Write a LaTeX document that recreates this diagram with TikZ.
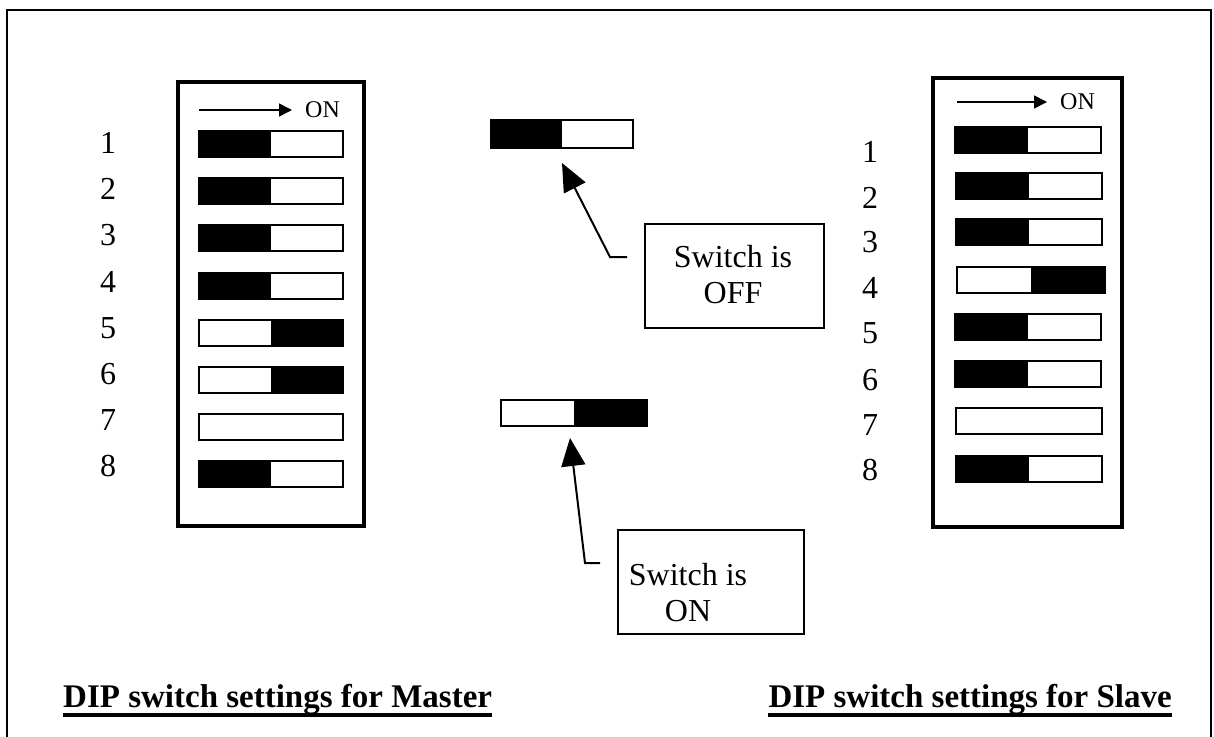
\documentclass[tikz,border=0pt]{standalone}
\usepackage{fontspec}
\setmainfont{Liberation Serif}
\usetikzlibrary{arrows.meta}
\begin{document}
\begin{tikzpicture}[x=1pt,y=-1pt,
  frame/.style={line width=2.5pt},
  dipbox/.style={draw, line width=4.5pt, inner sep=0pt},
  swbox/.style={draw, line width=2.5pt, inner sep=0pt, minimum height=26pt},
  swoff/.style={swbox, path picture={\fill (path picture bounding box.south west) rectangle (path picture bounding box.north);}},
  swon/.style={swbox, path picture={\fill (path picture bounding box.south) rectangle (path picture bounding box.north east);}},
  num/.style={inner sep=0pt, anchor=base, font=\fontsize{32}{37}\selectfont},
  onlbl/.style={inner sep=0pt, anchor=base west, font=\fontsize{24}{28}\selectfont},
  onarrow/.style={line width=1.5pt, -{Triangle[length=13pt,width=13pt]}},
  callout/.style={draw, line width=2pt, inner sep=0pt},
  calltxt/.style={inner sep=0pt, anchor=base, font=\fontsize{32}{37}\selectfont},
  pointer/.style={line width=2pt, -{Triangle[length=28pt,width=24pt]}},
  caption/.style={inner sep=0pt, anchor=base west, font=\fontsize{33}{38}\selectfont\bfseries},
  uline/.style={line width=3.5pt}
]
\useasboundingbox (0,0) rectangle (1214,736);
% outer frame
\draw[frame] (7,745) -- (7,10) -- (1211,10) -- (1211,745);

% ---------- Master DIP ----------
\node[dipbox, minimum width=186pt, minimum height=444pt] (mbox) at (271,304) {};
\coordinate (mas) at (199,110);
\coordinate (mae) at (292,110);
\draw[onarrow] (mas) -- (mae);
\node[onlbl] (mon) at (305,117) {ON};
\node[swoff, minimum width=144pt] (m1) at (271,144) {};
\node[swoff, minimum width=144pt] (m2) at (271,191) {};
\node[swoff, minimum width=144pt] (m3) at (271,238) {};
\node[swoff, minimum width=144pt] (m4) at (271,286) {};
\node[swon,  minimum width=144pt] (m5) at (271,333) {};
\node[swon,  minimum width=144pt] (m6) at (271,380) {};
\node[swbox, minimum width=144pt] (m7) at (271,427) {};
\node[swoff, minimum width=144pt] (m8) at (271,474) {};
\node[num] (mn1) at (108,153) {1};
\node[num] (mn2) at (108,199) {2};
\node[num] (mn3) at (108,245) {3};
\node[num] (mn4) at (108,292) {4};
\node[num] (mn5) at (108,338) {5};
\node[num] (mn6) at (108,384) {6};
\node[num] (mn7) at (108,430) {7};
\node[num] (mn8) at (108,476) {8};

% ---------- Slave DIP ----------
\node[dipbox, minimum width=189pt, minimum height=449pt] (sbox) at (1027.5,302.5) {};
\coordinate (sas) at (957,102);
\coordinate (sae) at (1047,102);
\draw[onarrow] (sas) -- (sae);
\node[onlbl] (son) at (1060,109) {ON};
\node[swoff, minimum width=146pt] (s1) at (1028,140) {};
\node[swoff, minimum width=146pt] (s2) at (1029,186) {};
\node[swoff, minimum width=146pt] (s3) at (1029,232) {};
\node[swon,  minimum width=148pt] (s4) at (1031,280) {};
\node[swoff, minimum width=146pt] (s5) at (1028,327) {};
\node[swoff, minimum width=146pt] (s6) at (1028,374) {};
\node[swbox, minimum width=146pt] (s7) at (1029,421) {};
\node[swoff, minimum width=146pt] (s8) at (1029,469) {};
\node[num] (sn1) at (870,162) {1};
\node[num] (sn2) at (870,208) {2};
\node[num] (sn3) at (870,252) {3};
\node[num] (sn4) at (870,298) {4};
\node[num] (sn5) at (870,343) {5};
\node[num] (sn6) at (870,390) {6};
\node[num] (sn7) at (870,435) {7};
\node[num] (sn8) at (870,480) {8};

% ---------- legend: OFF ----------
\node[swoff, minimum width=142pt, minimum height=28pt] (eoff) at (562,134) {};
\node[callout, minimum width=179pt, minimum height=104pt] (boff) at (734.5,276) {};
\node[calltxt] (toff1) at (733,267) {Switch is};
\node[calltxt] (toff2) at (733,303) {OFF};
\coordinate (poff0) at (627,257);
\coordinate (poff1) at (610,257);
\coordinate (poff2) at (562,163);
\draw[pointer] (poff0) -- (poff1) -- (poff2);

% ---------- legend: ON ----------
\node[swon, minimum width=146pt] (eon) at (574,413) {};
\node[callout, minimum width=186pt, minimum height=104pt] (bon) at (711,582) {};
\node[calltxt] (ton1) at (688,585) {Switch is};
\node[calltxt] (ton2) at (688,621) {ON};
\coordinate (pon0) at (600,563);
\coordinate (pon1) at (585,563);
\coordinate (pon2) at (570,438);
\draw[pointer] (pon0) -- (pon1) -- (pon2);

% ---------- captions ----------
\node[caption] (cm) at (63,707) {DIP switch settings for Master};
\draw[uline] ([yshift=-8pt]cm.base west) -- ([yshift=-8pt]cm.base east);
\node[caption, anchor=base east] (cs) at (1172,707) {DIP switch settings for Slave};
\draw[uline] ([yshift=-8pt]cs.base west) -- ([yshift=-8pt]cs.base east);
\end{tikzpicture}
\end{document}
